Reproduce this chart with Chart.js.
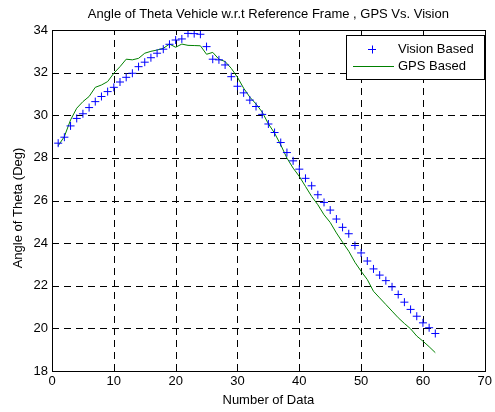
<!DOCTYPE html>
<html>
<head>
<meta charset="utf-8">
<script src="https://cdn.jsdelivr.net/npm/chart.js@4"></script>
<style>
  html, body { margin: 0; padding: 0; background: #fff; }
  #chart { display: block; }
</style>
</head>
<body>
<canvas id="chart" width="495" height="412"></canvas>
<script>
const titleText = 'Angle of Theta Vehicle w.r.t Reference Frame , GPS Vs. Vision';
const xLabel = 'Number of Data';
const yLabel = 'Angle of Theta (Deg)';
const seriesNames = ['Vision Based', 'GPS Based'];

const visionValues = [
  28.69, 28.97, 29.5, 29.85, 30.07, 30.36, 30.64, 30.88, 31.11, 31.31,
  31.56, 31.78, 31.97, 32.28, 32.49, 32.7, 32.91, 33.1, 33.33, 33.53,
  33.58, 33.84, 33.83, 33.8, 33.22, 32.63, 32.6, 32.36, 31.81, 31.36,
  31.05, 30.71, 30.41, 30.04, 29.59, 29.19, 28.72, 28.25, 27.86, 27.47,
  27.04, 26.69, 26.27, 25.91, 25.55, 25.13, 24.74, 24.44, 23.89, 23.54,
  23.16, 22.79, 22.5, 22.24, 21.95, 21.59, 21.23, 20.89, 20.57, 20.26,
  20.03, 19.76
];

const gpsValues = [
  28.57, 29.0, 29.78, 30.33, 30.64, 30.88, 31.31, 31.42, 31.58, 31.97,
  32.28, 32.63, 32.6, 32.67, 32.91, 33.0, 33.06, 33.14, 33.34, 33.19,
  33.34, 33.28, 33.27, 33.26, 32.86, 32.95, 32.63, 32.52, 32.2, 31.78,
  31.27, 30.85, 30.53, 30.15, 29.6, 29.16, 28.61, 27.99, 27.52, 27.13,
  26.66, 26.19, 25.8, 25.33, 24.97, 24.48, 24.04, 23.62, 23.1, 22.68,
  22.29, 21.74, 21.43, 21.12, 20.81, 20.5, 20.23, 19.98, 19.64, 19.4,
  19.14, 18.86
];

const xTicks = [0, 10, 20, 30, 40, 50, 60, 70];
const yTicks = [18, 20, 22, 24, 26, 28, 30, 32, 34];

const FONT = "'Liberation Sans', Arial, sans-serif";

// x is just the sample number 1..n
const visionPoints = visionValues.map((v, i) => ({ x: i + 1, y: v }));
const gpsPoints = gpsValues.map((v, i) => ({ x: i + 1, y: v }));

// dashed matlab-style grid + inward ticks, drawn under the data
const matlabGrid = {
  id: 'matlabGrid',
  beforeDatasetsDraw(chart) {
    const { ctx, chartArea: a, scales } = chart;
    ctx.save();
    ctx.strokeStyle = '#000';
    ctx.lineWidth = 1;
    ctx.setLineDash([7, 5]);
    ctx.beginPath();
    xTicks.forEach(v => {
      const px = Math.round(scales.x.getPixelForValue(v)) + 0.5;
      if (v === xTicks[0] || v === xTicks[xTicks.length - 1]) return;
      ctx.moveTo(px, a.bottom);
      ctx.lineTo(px, a.top);
    });
    yTicks.forEach(v => {
      const py = Math.round(scales.y.getPixelForValue(v)) + 0.5;
      if (v === yTicks[0] || v === yTicks[yTicks.length - 1]) return;
      ctx.moveTo(a.left, py);
      ctx.lineTo(a.right, py);
    });
    ctx.stroke();

    ctx.setLineDash([]);
    ctx.beginPath();
    xTicks.forEach(v => {
      const px = Math.round(scales.x.getPixelForValue(v)) + 0.5;
      ctx.moveTo(px, a.bottom); ctx.lineTo(px, a.bottom - 5);
      ctx.moveTo(px, a.top); ctx.lineTo(px, a.top + 5);
    });
    yTicks.forEach(v => {
      const py = Math.round(scales.y.getPixelForValue(v)) + 0.5;
      ctx.moveTo(a.left, py); ctx.lineTo(a.left + 5, py);
      ctx.moveTo(a.right, py); ctx.lineTo(a.right - 5, py);
    });
    ctx.stroke();
    ctx.restore();
  }
};

// title, axis labels, box and legend
const matlabDecor = {
  id: 'matlabDecor',
  afterDraw(chart) {
    const { ctx, chartArea: a } = chart;
    ctx.save();
    ctx.strokeStyle = '#000';
    ctx.lineWidth = 1;
    ctx.setLineDash([]);
    ctx.strokeRect(Math.round(a.left) + 0.5, Math.round(a.top) + 0.5,
      Math.round(a.right - a.left), Math.round(a.bottom - a.top));

    ctx.fillStyle = '#000';
    ctx.font = '13px ' + FONT;
    ctx.textAlign = 'center';
    ctx.textBaseline = 'middle';
    ctx.fillText(titleText, (a.left + a.right) / 2, 14);
    ctx.fillText(xLabel, (a.left + a.right) / 2, 400);

    ctx.save();
    ctx.translate(18, 208);
    ctx.rotate(-Math.PI / 2);
    ctx.fillText(yLabel, 0, 0);
    ctx.restore();

    // legend
    const lx = 346, ly = 35, lw = 138, lh = 44;
    ctx.fillStyle = '#fff';
    ctx.fillRect(lx, ly, lw, lh);
    ctx.strokeRect(lx + 0.5, ly + 0.5, lw, lh);

    ctx.strokeStyle = '#0000ff';
    ctx.beginPath();
    ctx.moveTo(368, 49.5); ctx.lineTo(376, 49.5);
    ctx.moveTo(372.5, 45.5); ctx.lineTo(372.5, 53.5);
    ctx.stroke();

    ctx.strokeStyle = '#008000';
    ctx.beginPath();
    ctx.moveTo(353, 66.5); ctx.lineTo(394, 66.5);
    ctx.stroke();

    ctx.fillStyle = '#000';
    ctx.textAlign = 'left';
    ctx.fillText(seriesNames[0], 398, 49);
    ctx.fillText(seriesNames[1], 398, 66);
    ctx.restore();
  }
};

const chart = new Chart(document.getElementById('chart'), {
  type: 'scatter',
  data: {
    datasets: [
      {
        label: seriesNames[0],
        data: visionPoints,
        showLine: false,
        pointStyle: 'cross',
        pointRadius: 4,
        pointBorderWidth: 1,
        pointBorderColor: '#0000ff',
        pointBackgroundColor: '#0000ff',
        borderColor: '#0000ff',
        backgroundColor: '#0000ff'
      },
      {
        label: seriesNames[1],
        data: gpsPoints,
        showLine: true,
        borderColor: '#008000',
        borderWidth: 1,
        pointRadius: 0,
        tension: 0,
        fill: false
      }
    ]
  },
  options: {
    responsive: false,
    animation: false,
    events: [],
    layout: { padding: { top: 30, right: 10, bottom: 21, left: 0 } },
    plugins: {
      legend: { display: false },
      tooltip: { enabled: false }
    },
    scales: {
      x: {
        type: 'linear',
        min: 0,
        max: 70,
        afterBuildTicks: (scale) => { scale.ticks = xTicks.map(v => ({ value: v })); },
        afterFit: (scale) => { scale.height = 20; },
        ticks: { color: '#000', font: { family: FONT, size: 13 }, padding: 3, maxRotation: 0, autoSkip: false },
        grid: { display: false, drawTicks: false },
        border: { display: false }
      },
      y: {
        type: 'linear',
        min: 18,
        max: 34,
        afterBuildTicks: (scale) => { scale.ticks = yTicks.map(v => ({ value: v })); },
        afterFit: (scale) => { scale.width = 52; },
        ticks: { color: '#000', font: { family: FONT, size: 13 }, padding: 4, autoSkip: false },
        grid: { display: false, drawTicks: false },
        border: { display: false }
      }
    }
  },
  plugins: [matlabGrid, matlabDecor]
});
</script>
</body>
</html>
